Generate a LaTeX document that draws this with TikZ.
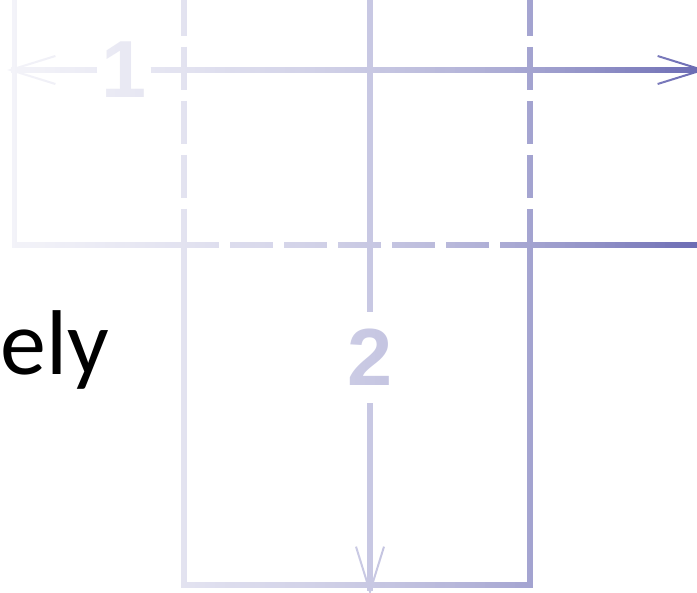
\documentclass[tikz,border=0pt]{standalone}
\usepackage{fontspec}
\setmainfont{Carlito}
\newfontfamily\numfont{Liberation Sans}
\usetikzlibrary{positioning, arrows.meta}

\definecolor{edgeblue}{RGB}{108,108,180}

\begin{document}
\begin{tikzpicture}[
  x=1pt, y=-1pt,
  frame/.style={draw=edgeblue, line width=5.5pt},
  hidden/.style={frame, dash pattern=on 43pt off 11pt},
  arr/.style={-{Straight Barb[length=45pt, width=28pt, line width=2pt]},
              draw=edgeblue, line width=5.5pt},
  num/.style={inner sep=0pt, text=edgeblue, font=\numfont\bfseries\fontsize{81}{90}\selectfont},
  word/.style={inner sep=0pt, anchor=base west, font=\fontsize{92}{104}\selectfont},
]
\useasboundingbox (0,0) rectangle (697,593);
\clip (0,0) rectangle (697,593);

% --- Frames ---
\draw[frame] (14.5,-60) |- (184,245);
\draw[frame] (530,245) -- (760,245);
\draw[frame] (184,245) |- (530,585) -- (530,245);
\draw[hidden, dash phase=8pt] (184,245) -- (530,245);
\draw[hidden, dash phase=2pt] (184,-5) -- (184,245);
\draw[hidden, dash phase=2pt] (530,-5) -- (530,245);

% --- Labels ---
\node[num, minimum width=53pt, minimum height=60pt] (lab1) at (124,70) {1};
\node[num, minimum width=40pt, minimum height=91pt] (lab2) at (370,357.5) {2};

% --- Arrows ---
\coordinate (tipL) at (7,70);
\coordinate (tipR) at (706,70);
\coordinate (topV) at (370,-20);
\coordinate (tipB) at (370,595);
\draw[arr] (lab1) -- (tipL);
\draw[arr] (lab1) -- (tipR);
\draw[frame] (topV) -- (lab2);
\draw[arr] (lab2) -- (tipB);

% --- Veil (washes out towards the left) ---
\foreach \i in {0,...,139} {
  \pgfmathsetmacro{\f}{(\i*5+2.5)/697}
  \pgfmathsetmacro{\g}{max(0.93-0.424*\f-0.506*\f^3,0)}
  \fill[white, fill opacity=\g] (\i*5,-5) rectangle (\i*5+5,600);
}

% --- Text ---
\node[word] (tail) at (0,375) {ely};

\end{tikzpicture}
\end{document}
